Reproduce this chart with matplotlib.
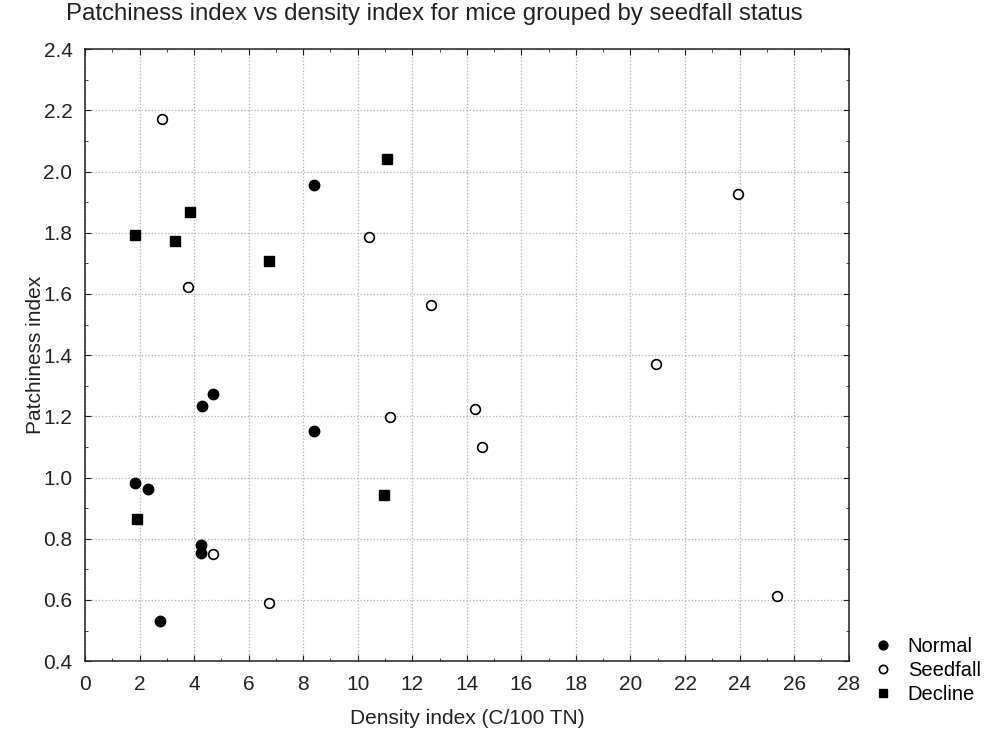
import matplotlib
matplotlib.use("Agg")
from matplotlib import pyplot as plt
from matplotlib.ticker import MultipleLocator

plt.rcParams['font.family'] = ['Liberation Sans', 'DejaVu Sans']

# Density index (x) and patchiness index (y) per seedfall status
normal_x = [1.84, 2.32, 2.75, 4.24, 4.24, 4.29, 4.71, 8.41, 8.41]
normal_y = [0.982, 0.963, 0.531, 0.78, 0.755, 1.235, 1.274, 1.956, 1.152]

seedfall_x = [2.81, 3.78, 4.71, 6.73, 10.41, 11.18, 12.70, 14.29, 14.55, 20.92, 23.96, 25.37]
seedfall_y = [2.17, 1.623, 0.75, 0.591, 1.787, 1.197, 1.564, 1.225, 1.10, 1.37, 1.928, 0.614]

decline_x = [1.83, 1.89, 3.30, 3.85, 6.73, 10.96, 11.07]
decline_y = [1.793, 0.866, 1.773, 1.869, 1.709, 0.943, 2.04]

fig = plt.figure(figsize=(9.88, 7.33), dpi=100)
ax = fig.add_axes([0.086, 0.098, 0.773, 0.835])

ax.plot(normal_x, normal_y, 'o', color='black', markersize=7.5, label='Normal')
ax.plot(seedfall_x, seedfall_y, 'o', markerfacecolor='white', markeredgecolor='black',
        markeredgewidth=1.2, markersize=7, label='Seedfall')
ax.plot(decline_x, decline_y, 's', color='black', markersize=7.5, label='Decline')

ax.set_xlim(0, 28)
ax.set_ylim(0.4, 2.4)
ax.xaxis.set_major_locator(MultipleLocator(2))
ax.xaxis.set_minor_locator(MultipleLocator(1))
ax.yaxis.set_major_locator(MultipleLocator(0.2))
ax.yaxis.set_minor_locator(MultipleLocator(0.1))
ax.yaxis.set_major_formatter(plt.FormatStrFormatter('%.1f'))
ax.tick_params(which='both', direction='in', top=True, right=True, labelsize=15,
               colors='#222222')
ax.tick_params(which='major', length=4)
ax.tick_params(which='minor', length=2.5)
ax.tick_params(axis='x', pad=10)
ax.tick_params(axis='y', pad=9)
ax.grid(True, which='major', linestyle=':', color='#b0b0b0', linewidth=0.9)
for s in ax.spines.values():
    s.set_linewidth(1.1)
    s.set_color('#222222')

ax.set_xlabel('Density index (C/100 TN)', fontsize=15, color='#222222', labelpad=11)
ax.set_ylabel('Patchiness index', fontsize=15, color='#222222', labelpad=-1)
fig.text(0.44, 0.981, 'Patchiness index vs density index for mice grouped by seedfall status',
         ha='center', va='center', fontsize=17.3, color='#222222')

ax.legend(loc='upper left', bbox_to_anchor=(0.875, 0.142), bbox_transform=fig.transFigure,
          frameon=False, fontsize=14.5, markerscale=0.85, handlelength=1.0,
          handletextpad=0.75, labelspacing=0.25, borderaxespad=0)

fig.savefig('out.png', dpi=100)
